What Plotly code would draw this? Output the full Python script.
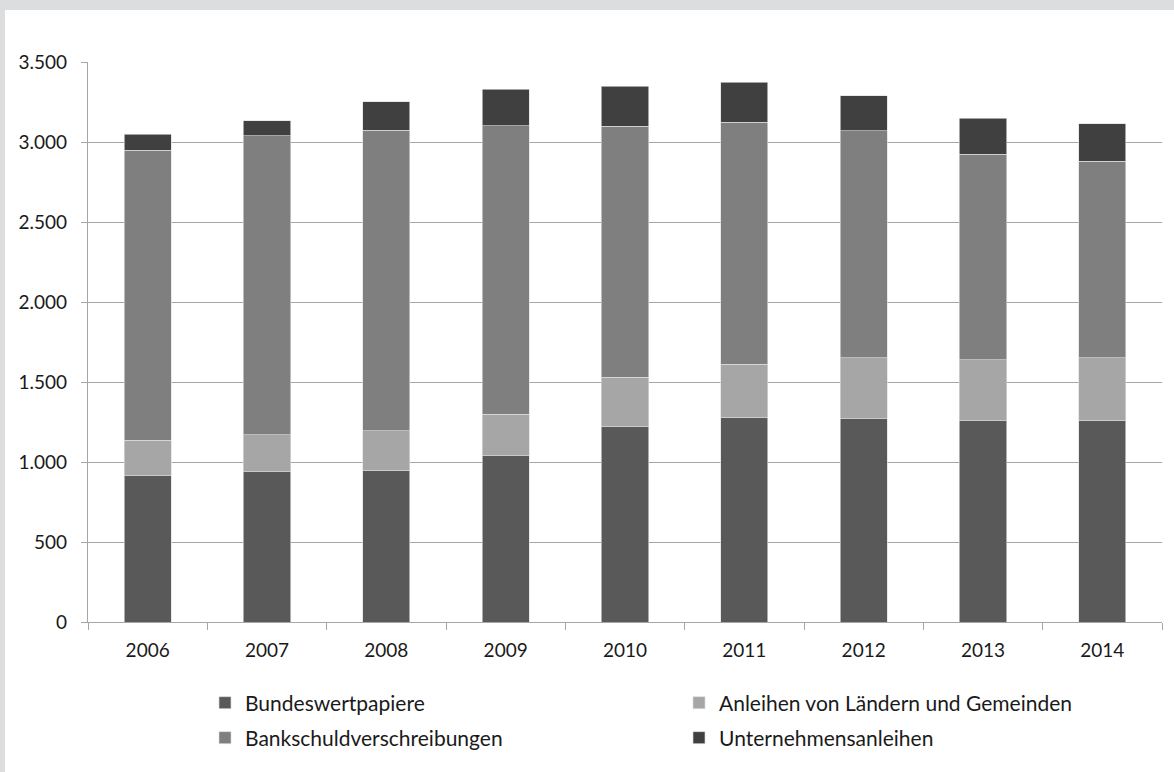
import plotly.graph_objects as go

years = ["2006", "2007", "2008", "2009", "2010", "2011", "2012", "2013", "2014"]
bundeswertpapiere = [913, 939, 950, 1040, 1225, 1279, 1269, 1258, 1262]
laender_gemeinden = [224, 230, 246, 260, 306, 331, 383, 380, 390]
bankschuld = [1813, 1869, 1879, 1802, 1569, 1515, 1417, 1287, 1229]
unternehmen = [98, 95, 177, 227, 250, 248, 219, 223, 234]

y_ticks = [0, 500, 1000, 1500, 2000, 2500, 3000, 3500]

W, H = 1174, 772
L, R, T, B = 88, 12, 62, 150
PW, PH = W - L - R, H - T - B


def px_x(px):
    return (px - L) / PW


def px_y(py):
    return (H - B - py) / PH


FONT = "Lato"
series = [
    ("Bundeswertpapiere", bundeswertpapiere, "#595959", "legend"),
    ("Anleihen von Ländern und Gemeinden", laender_gemeinden, "#a6a6a6", "legend"),
    ("Bankschuldverschreibungen", bankschuld, "#7f7f7f", "legend2"),
    ("Unternehmensanleihen", unternehmen, "#404040", "legend2"),
]

fig = go.Figure()
for name, vals, col, lg in series:
    fig.add_trace(go.Bar(
        x=years, y=vals, name=name, legend=lg,
        marker=dict(color=col, line=dict(color="rgba(220,220,220,0.8)", width=0.8)),
    ))

legend_common = dict(
    orientation="h", xanchor="left", yanchor="middle", traceorder="normal",
    font=dict(family=FONT, size=21, color="#1a1a1a"),
    entrywidth=429, entrywidthmode="pixels",
    bgcolor="rgba(0,0,0,0)", borderwidth=0,
    itemclick=False, itemdoubleclick=False,
)

fig.update_layout(
    width=W, height=H,
    margin=dict(l=L, r=R, t=T, b=B, pad=0),
    barmode="stack", bargap=0.605,
    paper_bgcolor="white", plot_bgcolor="white",
    separators=",.",
    font=dict(family=FONT, size=19, color="#1a1a1a"),
    legend=dict(x=px_x(205), y=px_y(703), **legend_common),
    legend2=dict(x=px_x(205), y=px_y(738), **legend_common),
    xaxis=dict(
        showgrid=False, showline=True, linecolor="#a6a6a6", linewidth=1.3,
        ticks="outside", tickson="boundaries", ticklen=7, tickcolor="#a6a6a6",
        tickwidth=1.3, ticklabelstandoff=11,
        tickfont=dict(family=FONT, size=19, color="#1a1a1a"),
        fixedrange=True,
    ),
    yaxis=dict(
        range=[0, 3500], tickvals=y_ticks, tickformat=",",
        showgrid=True, gridcolor="#a6a6a6", gridwidth=1.3,
        showline=True, linecolor="#a6a6a6", linewidth=1.3,
        ticks="outside", ticklen=6, tickcolor="#a6a6a6", tickwidth=1.3,
        ticklabelstandoff=10,
        tickfont=dict(family=FONT, size=19, color="#1a1a1a"),
        zeroline=False, fixedrange=True,
    ),
    shapes=[
        dict(type="rect", xref="paper", yref="paper", layer="below",
             x0=px_x(0), x1=px_x(W), y0=px_y(10), y1=px_y(0),
             fillcolor="#dcdddf", line=dict(width=0)),
        dict(type="rect", xref="paper", yref="paper", layer="below",
             x0=px_x(0), x1=px_x(5), y0=px_y(H), y1=px_y(0),
             fillcolor="#dcdddf", line=dict(width=0)),
    ],
)

fig.write_html("out.html", config={"displayModeBar": False})
